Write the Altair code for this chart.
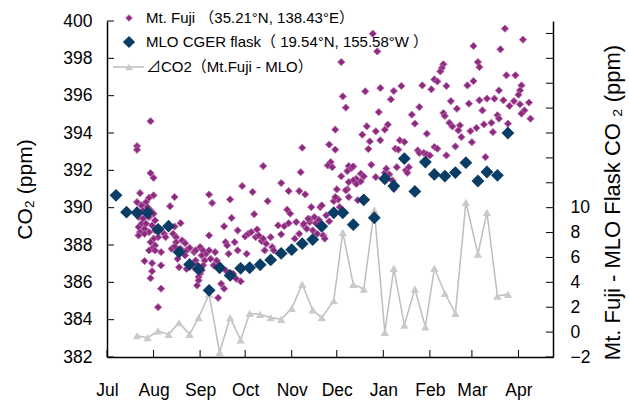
import altair as alt
import pandas as pd

# Campaign start; all x values below are days counted from this date
START = pd.Timestamp("2009-07-01")

# Mt. Fuji summit CO2 (ppm)
fuji_day = [
    20, 20, 29, 29, 31, 22, 31, 28, 45, 68, 70, 20, 26, 23, 27, 42, 20, 22, 24, 29,
    31, 21, 24, 28, 32, 23, 26, 30, 21, 25, 22, 28, 32, 35, 38, 39, 34, 31, 25, 21,
    49, 45, 44, 46, 50, 52, 46, 29, 32, 30, 28, 32, 36, 43, 45, 49, 53, 55, 58, 59,
    62, 64, 66, 68, 68, 63, 65, 69, 72, 59, 52, 48, 53, 60, 59, 62, 61, 61, 60, 25,
    30, 36, 30, 29, 36, 47, 34,
    78, 87, 92, 94, 96, 99, 101, 103, 104, 109, 106, 110, 114, 116, 118, 121, 126, 128, 131, 135,
    137, 79, 81, 87, 93, 105, 111, 73, 75, 79, 84, 86, 89, 76, 78, 74, 90, 97, 104, 116,
    121, 128, 132, 129, 130, 82, 107, 136, 142, 120, 122, 98, 83, 135, 138, 139, 131, 100, 80, 85,
    64, 63, 71,
    152, 173, 187, 170, 179, 185, 175, 182, 148, 152, 195, 192, 194, 198, 149, 147, 150, 161, 163, 164,
    169, 171, 166, 164, 169, 161, 156, 160, 166, 176, 179, 185, 188, 186, 193, 199, 201, 154, 143, 140,
    144, 145, 125, 167, 191, 141, 142, 133, 134, 151, 155, 146, 148,
    265, 277, 177, 180, 244, 262, 156, 247, 248, 224, 223, 222, 218, 220, 266, 272, 244, 240, 210, 226,
    216, 196, 182, 191, 172, 276, 275, 274, 261, 157, 189, 229, 253, 258, 248, 264, 271, 241, 281, 275,
    268, 159, 208, 233, 250, 278, 181, 224, 203, 225, 260, 282, 276, 205, 267, 228, 230, 235, 256, 251,
    261, 234, 242, 246, 257, 213, 236, 243, 174, 207, 218, 220, 232, 208, 211, 213, 215, 226, 252, 160,
    200, 190, 153, 159, 152, 161,
]
fuji_co2 = [
    393.30, 393.10, 394.63, 391.85, 391.60, 390.78, 390.66, 390.53, 390.57, 390.70,
    390.25, 390.30, 390.30, 390.12, 390.03, 390.08, 389.85, 389.71, 389.85, 389.85,
    389.68, 389.50, 389.41, 389.50, 389.32, 389.14, 389.14, 389.05, 388.96, 388.87,
    388.69, 388.69, 388.78, 388.87, 388.60, 388.42, 388.42, 388.34, 388.60, 388.51,
    389.17, 388.99, 388.60, 388.42, 388.25, 388.10, 388.15, 388.15, 387.98, 387.80,
    387.71, 387.71, 387.62, 387.80, 387.92, 387.80, 387.71, 387.85, 387.62, 387.71,
    387.89, 387.71, 387.53, 387.71, 388.51, 387.44, 387.17, 387.26, 387.62, 387.17,
    387.44, 386.81, 386.72, 386.94, 386.72, 386.46, 386.28, 386.10, 385.83, 387.14,
    387.03, 386.91, 386.60, 386.22, 385.66, 387.26, 384.67,
    389.00, 388.78, 388.46, 388.60, 388.69, 388.42, 388.51, 388.21, 388.34, 388.42,
    388.07, 387.89, 389.05, 388.57, 389.01, 389.17, 389.23, 388.60, 389.05, 389.23,
    388.78, 388.15, 387.53, 387.71, 387.53, 387.71, 387.71, 387.17, 386.91, 386.64,
    386.46, 386.19, 386.05, 385.92, 385.66, 385.17, 391.16, 390.84, 392.23, 391.32,
    390.89, 390.89, 390.71, 391.90, 393.21, 390.44, 390.35, 390.03, 390.03, 389.89,
    389.68, 389.65, 389.45, 389.37, 389.50, 389.17, 389.14, 388.83, 387.98, 388.15,
    386.91, 386.64, 386.91,
    394.18, 394.36, 394.45, 393.91, 394.09, 394.18, 393.55, 393.61, 393.38, 393.11,
    393.61, 393.16, 393.11, 393.52, 392.44, 392.26, 392.17, 392.23, 392.13, 392.21,
    391.82, 391.68, 391.55, 391.46, 391.41, 391.37, 391.68, 390.98, 391.27, 392.30,
    391.64, 391.87, 391.78, 392.09, 392.17, 392.00, 392.17, 390.44, 390.12, 388.60,
    388.51, 388.34, 388.34, 390.40, 391.00, 389.35, 389.05, 388.87, 389.41, 390.35,
    390.03, 389.59, 389.27,
    399.59, 399.00, 399.32, 398.37, 398.66, 398.48, 397.80, 397.80, 397.53, 397.68,
    397.48, 397.30, 396.87, 396.76, 397.09, 397.09, 396.78, 396.55, 396.55, 396.52,
    396.34, 396.52, 396.41, 396.25, 396.23, 396.55, 396.28, 396.05, 396.28, 395.96,
    395.80, 395.71, 395.84, 395.84, 395.75, 395.75, 395.71, 395.57, 395.63, 395.54,
    395.45, 395.36, 395.39, 395.30, 395.21, 395.21, 395.12, 395.07, 394.98, 394.91,
    394.95, 394.77, 395.04, 394.50, 394.50, 394.55, 394.35, 394.41, 394.55, 394.46,
    394.77, 394.14, 394.10, 394.27, 394.05, 393.96, 393.78, 393.51, 393.14, 393.07,
    393.25, 393.16, 393.28, 392.93, 392.93, 392.86, 392.80, 392.80, 392.71, 391.96,
    391.87, 391.46, 390.98, 390.93, 390.57, 390.57,
]

# Mauna Loa CGER weekly flask CO2 (ppm)
mlo_day = [
    6, 13, 20, 27, 34, 41, 48, 55, 61, 68, 75, 82, 89, 95, 102, 109, 116, 123, 130, 137,
    143, 151, 157, 164, 171, 178, 185, 191, 198, 205, 212, 218, 225, 232, 239, 247, 253, 260, 267,
]
mlo_co2 = [
    390.66, 389.76, 389.73, 389.73, 388.84, 389.01, 387.62, 386.96, 386.71, 385.57,
    386.78, 386.37, 386.75, 386.78, 386.94, 387.20, 387.55, 387.75, 388.07, 388.29,
    389.00, 389.73, 389.73, 389.09, 390.42, 389.46, 391.55, 391.16, 392.63, 390.87,
    392.44, 391.78, 391.69, 391.88, 392.41, 391.43, 391.91, 391.73, 394.00,
]

# Difference Mt. Fuji - MLO (ppm), on the flask dates
delta_day = [
    20, 27, 34, 41, 48, 55, 61, 68, 75, 82, 89, 95, 102, 109, 116, 123, 130, 137,
    143, 151, 157, 164, 171, 178, 185, 191, 198, 205, 212, 218, 225, 232, 239, 247, 253, 260, 267,
]
delta_co2 = [
    -0.29, -0.45, 0.09, -0.18, 0.76, -0.18, 1.16, 3.04, -1.62, 1.16,
    -0.63, 1.51, 1.43, 1.16, 1.03, 1.91, 3.84, 1.78, 1.16, 2.52,
    8.02, 3.84, 3.46, 9.81, -0.02, 5.12, 0.57, 3.46, 0.43, 5.12,
    3.12, 1.51, 10.43, 6.27, 9.62, 2.90, 3.04,
]

# Axis tick positions
co2_ticks = list(range(382, 401, 2))
delta_ticks = list(range(-2, 25, 2))
month_starts = ["2009-07-01", "2009-08-01", "2009-09-01", "2009-10-01", "2009-11-01",
                "2009-12-01", "2010-01-01", "2010-02-01", "2010-03-01", "2010-04-01"]

legend_labels = [
    "Mt. Fuji （35.21°N, 138.43°E）",
    "MLO CGER flask（ 19.54°N, 155.58°W ）",
    "⊿CO2（Mt.Fuji  -  MLO）",
]

FONT = "Liberation Sans, Arial, Noto Sans CJK JP, DejaVu Sans"
FUJI_FILL = "#8B2A7F"
FUJI_EDGE = "#B86AAA"
MLO_FILL = "#0A3D66"
DELTA_LINE = "#BEBEBE"
DELTA_MARK = "#CACACA"
W, H = 446, 336
TICK_LEN = 7


def to_dates(days):
    return START + pd.to_timedelta(days, unit="D")


fuji = pd.DataFrame({"date": to_dates(fuji_day), "co2": fuji_co2})
mlo = pd.DataFrame({"date": to_dates(mlo_day), "co2": mlo_co2})
delta = pd.DataFrame({"date": to_dates(delta_day), "delta": delta_co2})
x_tick_df = pd.DataFrame({"date": pd.to_datetime(month_starts)})
left_tick_df = pd.DataFrame({"co2": co2_ticks})
right_tick_df = pd.DataFrame({"delta": delta_ticks})

month_ticks = [alt.DateTime(year=int(s[:4]), month=int(s[5:7]), date=1) for s in month_starts]
x_domain = [alt.DateTime(year=2009, month=7, date=1), alt.DateTime(year=2010, month=4, date=24)]

axis_style = dict(
    ticks=False,
    grid=False,
    domain=True,
    domainColor="#000000",
    domainWidth=1.5,
    labelFont=FONT,
    labelFontSize=17.5,
    labelColor="#000000",
    labelOverlap=False,
    titleFont=FONT,
    titleFontWeight="normal",
    titleColor="#000000",
)

x_enc = alt.X(
    "date:T",
    scale=alt.Scale(domain=x_domain),
    axis=alt.Axis(
        values=month_ticks,
        format="%b",
        title=None,
        labelAngle=0,
        labelFlush=False,
        labelPadding=24,
        **axis_style,
    ),
)

left_axis = alt.Axis(
    values=co2_ticks,
    format="d",
    orient="left",
    title="CO₂  (ppm)",
    titleFontSize=21,
    titleAngle=270,
    titleAlign="center",
    titleBaseline="middle",
    titleX=-82,
    titleY=168,
    labelPadding=15,
    **axis_style,
)

right_axis = alt.Axis(
    values=delta_ticks,
    orient="right",
    labelExpr="datum.value > 10 ? '' : datum.label",
    title="Mt. Fuji - MLO Flask CO ₂ (ppm)",
    titleFontSize=22,
    titleAngle=270,
    titleAlign="center",
    titleBaseline="middle",
    titleX=59,
    titleY=181,
    labelPadding=17,
    **axis_style,
)

co2_y = alt.Y("co2:Q", scale=alt.Scale(domain=[382, 400], nice=False), axis=left_axis)
delta_y = alt.Y("delta:Q", scale=alt.Scale(domain=[-2, 25], nice=False), axis=right_axis)

# Mt. Fuji samples
fuji_pts = alt.Chart(fuji).mark_point(
    shape="diamond", filled=True, size=52, fill=FUJI_FILL, stroke=FUJI_EDGE,
    strokeWidth=1, opacity=1,
).encode(x=x_enc, y=co2_y)

# MLO flasks
mlo_pts = alt.Chart(mlo).mark_point(
    shape="diamond", filled=True, size=165, fill=MLO_FILL, opacity=1,
).encode(x=x_enc, y=co2_y)

# Difference series on the secondary axis
delta_line = alt.Chart(delta).mark_line(color=DELTA_LINE, strokeWidth=1.5).encode(x=x_enc, y=delta_y)
delta_pts = alt.Chart(delta).mark_point(
    shape="triangle-up", filled=True, size=70, fill=DELTA_MARK, opacity=1,
).encode(x=x_enc, y=delta_y)

# Inward tick marks on the three axes
x_tick_marks = alt.Chart(x_tick_df).mark_tick(
    orient="vertical", size=TICK_LEN, thickness=1, color="#000000", opacity=1,
).encode(x=x_enc, y=alt.value(H - TICK_LEN / 2))
left_tick_marks = alt.Chart(left_tick_df).mark_tick(
    orient="horizontal", size=TICK_LEN, thickness=1, color="#000000", opacity=1,
).encode(y=co2_y, x=alt.value(TICK_LEN / 2))
right_tick_marks = alt.Chart(right_tick_df).mark_tick(
    orient="horizontal", size=TICK_LEN, thickness=1, color="#000000", opacity=1,
).encode(y=delta_y, x=alt.value(W - TICK_LEN / 2))

# Key in the upper-left corner
key_rows = [-3, 21, 46]
key_text = alt.layer(*[
    alt.Chart(pd.DataFrame({"label": [lab]})).mark_text(
        align="left", baseline="middle", font=FONT, fontSize=15, color="#000000",
    ).encode(x=alt.value(39), y=alt.value(row), text="label:N")
    for lab, row in zip(legend_labels, key_rows)
])
key_one = pd.DataFrame({"k": [0]})
key_fuji = alt.Chart(key_one).mark_point(
    shape="diamond", filled=True, size=44, fill=FUJI_FILL, stroke=FUJI_EDGE, strokeWidth=1, opacity=1,
).encode(x=alt.value(22), y=alt.value(key_rows[0]))
key_mlo = alt.Chart(key_one).mark_point(
    shape="diamond", filled=True, size=150, fill=MLO_FILL, opacity=1,
).encode(x=alt.value(22), y=alt.value(key_rows[1]))
key_line = alt.Chart(key_one).mark_rule(color=DELTA_LINE, strokeWidth=1.5).encode(
    x=alt.value(6), x2=alt.value(37), y=alt.value(key_rows[2])
)
key_tri = alt.Chart(key_one).mark_point(
    shape="triangle-up", filled=True, size=60, fill=DELTA_MARK, opacity=1,
).encode(x=alt.value(22), y=alt.value(key_rows[2]))

left = alt.layer(left_tick_marks, x_tick_marks, fuji_pts, mlo_pts,
                 key_text, key_fuji, key_mlo, key_line, key_tri)
right = alt.layer(right_tick_marks, delta_line, delta_pts)

chart = (
    alt.layer(right, left)
    .resolve_scale(y="independent")
    .properties(
        width=W,
        height=H,
        autosize=alt.AutoSizeParams(type="none"),
        padding={"left": 107, "top": 21, "right": 76, "bottom": 46},
        background="#ffffff",
    )
    .configure_view(stroke=None)
)

chart.save("out.html", embed_options={"renderer": "svg", "actions": False})
